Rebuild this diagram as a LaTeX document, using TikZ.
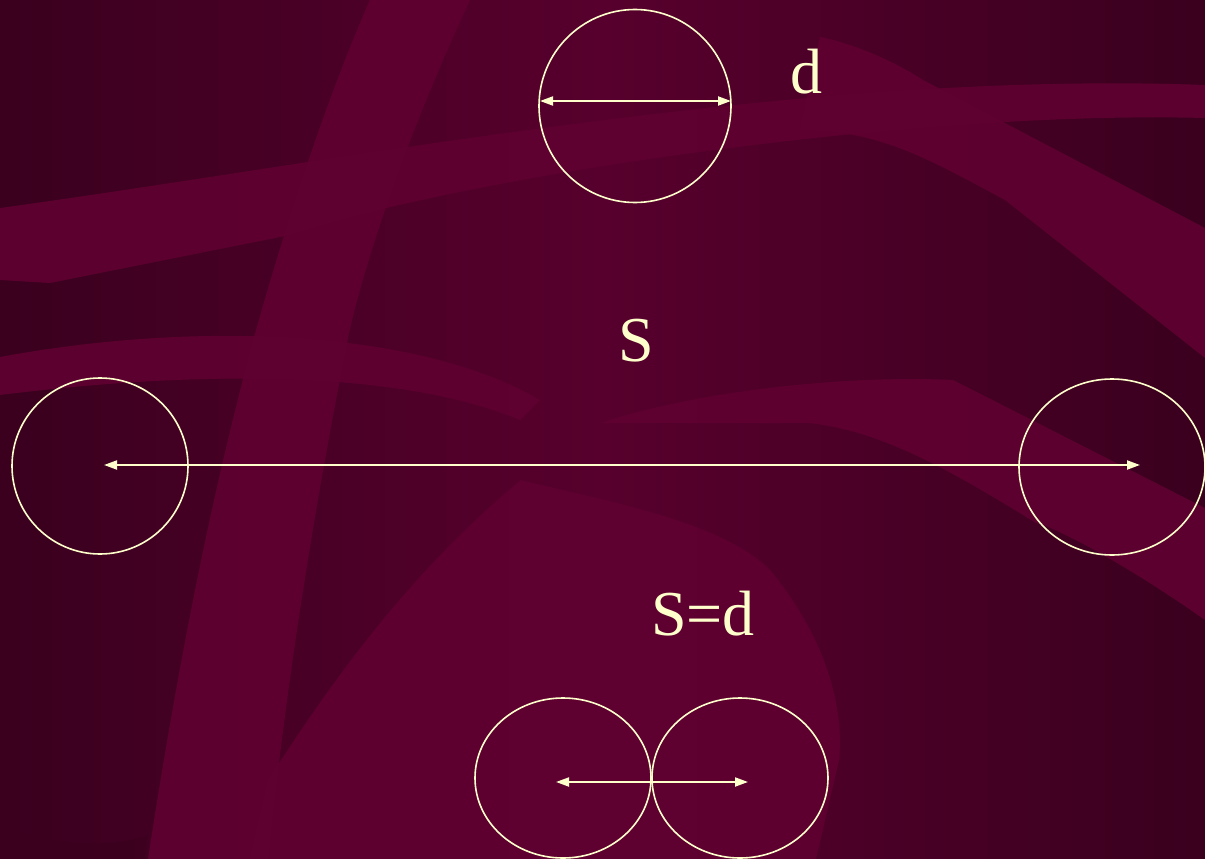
\documentclass[tikz,border=0pt]{standalone}
\usepackage{fontspec}
\setmainfont{Liberation Serif}
\usetikzlibrary{arrows.meta,shapes.geometric}
\definecolor{bgdark}{HTML}{3A001E}
\definecolor{bgmid}{HTML}{57002D}
\definecolor{bglight}{HTML}{5F0031}
\definecolor{bgdeep}{HTML}{44001F}
\definecolor{ink}{HTML}{FFFFCC}
\tikzset{
  ring/.style={draw=ink, line width=1.6pt},
  dim/.style={draw=ink, line width=1.9pt, {Triangle[length=13pt,width=9pt]}-{Triangle[length=13pt,width=9pt]}},
  lbl/.style={text=ink, font=\fontsize{64}{64}\selectfont, inner sep=0pt},
  band/.style={fill=bglight, opacity=0.92}
}
\begin{document}
\begin{tikzpicture}[x=1pt,y=-1pt]
\useasboundingbox (0,0) rectangle (1205,859);
% background
\shade[left color=bgdark, right color=bgdark, middle color=bgmid] (0,0) rectangle (1205,859);
% top band from left
\fill[band] (0,208) .. controls (350,160) and (800,70) .. (1205,85) -- (1205,118) .. controls (900,110) and (450,180) .. (290,235) -- (50,283) -- (0,280) -- cycle;
% vertical swoosh
\fill[band] (370,0) -- (470,0) .. controls (400,150) and (360,280) .. (348,338) .. controls (320,480) and (290,650) .. (268,859) -- (148,859) .. controls (180,650) and (215,480) .. (256,330) .. controls (290,210) and (330,90) .. cycle;
% right diagonal band
\fill[band] (820,37) .. controls (860,45) and (900,65) .. (923,80) -- (1205,228) -- (1205,358) -- (1005,200) .. controls (930,160) and (880,130) .. (800,130) -- cycle;
% middle-left arc band
\fill[band] (0,357) .. controls (200,320) and (420,330) .. (540,400) -- (520,420) .. controls (400,370) and (200,370) .. (0,395) -- cycle;
% middle-right crescent band
\fill[band] (600,423) .. controls (700,390) and (850,375) .. (953,380) -- (1205,508) -- (1205,620) .. controls (1120,560) and (1050,525) .. (1036,523) .. controls (950,470) and (880,430) .. (808,423) -- cycle;
% bottom lighter region
\fill[band] (521,480) .. controls (600,500) and (720,520) .. (770,570) .. controls (820,630) and (845,700) .. (839,760) -- (816,859) -- (250,859) -- (268,780) .. controls (320,700) and (400,580) .. cycle;
% dark crescent at bottom left
\fill[bgdark, opacity=0.5] (0,827) .. controls (40,840) and (100,852) .. (148,835) -- (145,859) -- (0,859) -- cycle;
% top circle
\node[ring, ellipse, minimum width=192pt, minimum height=193pt, inner sep=0pt] (c0) at (635,106) {};
\coordinate (d0l) at (540,101);
\coordinate (d0r) at (731,101);
\draw[dim] (d0l) -- (d0r);
\node[lbl] (d) at (806,72) {d};
% middle
\node[lbl] (s) at (636,341) {S};
\draw[ring] (100,466) ellipse [x radius=88, y radius=88];
\draw[ring] (1112,467) ellipse [x radius=93, y radius=88];
\coordinate (c1) at (104,465);
\coordinate (c2) at (1140,465);
\draw[dim] (c1) -- (c2);
% bottom
\node[lbl] (sd) at (703,614) {S=d};
\draw[ring] (563,778) ellipse [x radius=88, y radius=80];
\draw[ring] (740,778) ellipse [x radius=88, y radius=80];
\coordinate (b1) at (556,782);
\coordinate (b2) at (748,782);
\draw[dim] (b1) -- (b2);
\end{tikzpicture}
\end{document}
